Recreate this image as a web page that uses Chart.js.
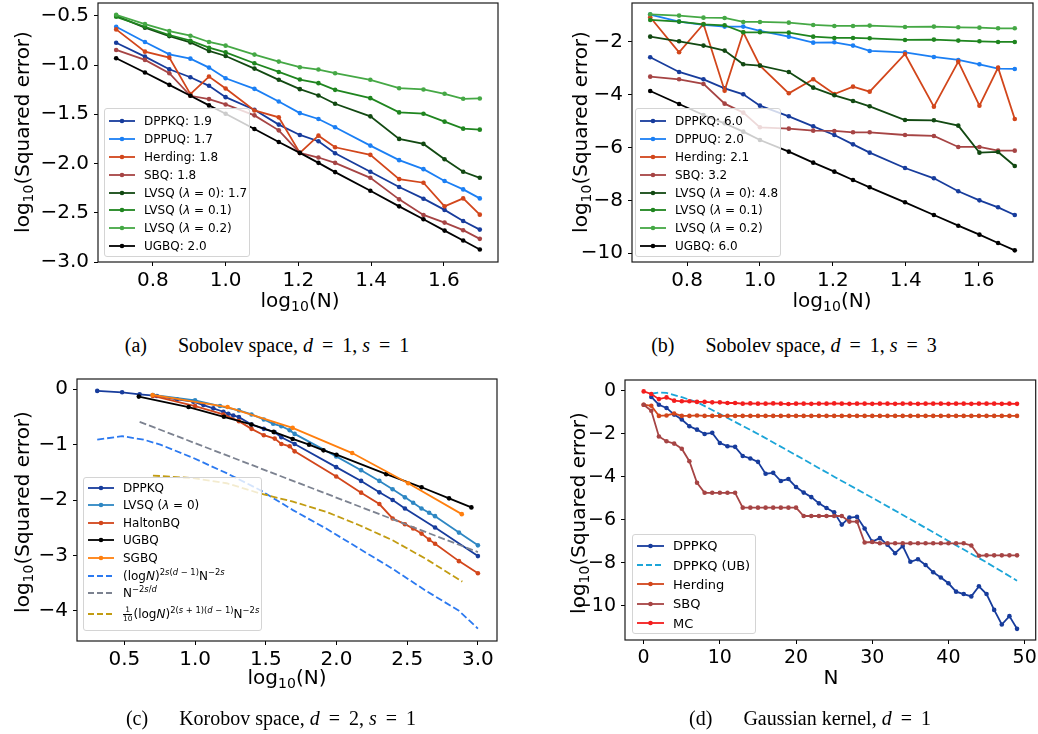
<!DOCTYPE html>
<html>
<head>
<meta charset="utf-8">
<script src="https://cdn.jsdelivr.net/npm/chart.js@4.4.1/dist/chart.umd.min.js"></script>
<style>
  body { margin: 0; background: #fff; }
  #fig { position: relative; width: 1038px; height: 734px; overflow: hidden; font-family: 'DejaVu Sans', sans-serif; color: #000; }
  canvas { position: absolute; }
  .ylab { position: absolute; transform: translate(-50%, -50%) rotate(-90deg); white-space: nowrap; font-size: 20px; }
  .xlab { position: absolute; transform: translate(-50%, -50%); white-space: nowrap; font-size: 20px; }
  .cap { position: absolute; transform: translate(-50%, -50%); white-space: nowrap; font-family: 'Liberation Serif', serif; font-size: 20px; }
  .cap .gap { display: inline-block; width: 31px; }
  .cap .eq { margin: 0 9px; }
  sub { font-size: 70%; vertical-align: -0.3em; line-height: 0; }
  sup { font-size: 70%; vertical-align: 0.55em; line-height: 0; }
  .leg { position: absolute; background: rgba(255,255,255,0.8); border: 1px solid #d4d4d4; border-radius: 3px; box-sizing: border-box; }
  .row { display: flex; align-items: center; white-space: nowrap; }
  .row svg { flex: none; margin-right: 9px; }
  .frac { display: inline-flex; flex-direction: column; font-size: 62%; line-height: 1.05; vertical-align: middle; text-align: center; margin-right: 1px; }
  .frac span:first-child { border-bottom: 1px solid #000; }
</style>
</head>
<body>
<div id="fig">
  <canvas id="chartA" width="520" height="300" style="left:0;top:0"></canvas>
  <canvas id="chartB" width="508" height="300" style="left:530px;top:0"></canvas>
  <canvas id="chartC" width="520" height="310" style="left:0;top:370px"></canvas>
  <canvas id="chartD" width="508" height="310" style="left:530px;top:370px"></canvas>

  <div class="ylab" style="left:22px;top:132px">log<sub>10</sub>(Squared error)</div>
  <div class="ylab" style="left:580px;top:132px">log<sub>10</sub>(Squared error)</div>
  <div class="ylab" style="left:22px;top:512px">log<sub>10</sub>(Squared error)</div>
  <div class="ylab" style="left:578px;top:513px">log<sub>10</sub>(Squared error)</div>

  <div class="xlab" style="left:300px;top:300px">log<sub>10</sub>(N)</div>
  <div class="xlab" style="left:832px;top:300px">log<sub>10</sub>(N)</div>
  <div class="xlab" style="left:287px;top:677px">log<sub>10</sub>(N)</div>
  <div class="xlab" style="left:831px;top:677px">N</div>

  <div class="cap" style="left:267px;top:345px">(a)<span class="gap"></span>Sobolev space, <i>d</i><span class="eq">=</span>1, <i>s</i><span class="eq">=</span>1</div>
  <div class="cap" style="left:794px;top:345px">(b)<span class="gap"></span>Sobolev space, <i>d</i><span class="eq">=</span>1, <i>s</i><span class="eq">=</span>3</div>
  <div class="cap" style="left:271px;top:718px">(c)<span class="gap"></span>Korobov space, <i>d</i><span class="eq">=</span>2, <i>s</i><span class="eq">=</span>1</div>
  <div class="cap" style="left:810px;top:718px">(d)<span class="gap"></span>Gaussian kernel, <i>d</i><span class="eq">=</span>1</div>
</div>

<script>
// ---------- (a) Sobolev space, d = 1, s = 1 ----------
const sobolevN = [5, 6, 7, 8, 9, 10, 12, 14, 16, 18, 20, 25, 30, 35, 40, 45, 50];
const aDppkq   = [-0.773, -0.915, -1.043, -1.124, -1.211, -1.326, -1.454, -1.605, -1.710, -1.774, -1.895, -2.084, -2.239, -2.357, -2.471, -2.583, -2.671];
const aDppuq   = [-0.611, -0.766, -0.891, -0.935, -1.026, -1.134, -1.242, -1.370, -1.488, -1.548, -1.632, -1.818, -1.966, -2.057, -2.178, -2.263, -2.354];
const aHerding = [-0.638, -0.864, -0.925, -1.295, -1.117, -1.238, -1.461, -1.531, -1.892, -1.717, -1.835, -1.912, -2.158, -2.195, -2.435, -2.354, -2.519];
const aSbq     = [-0.847, -0.948, -1.083, -1.312, -1.346, -1.400, -1.511, -1.663, -1.892, -1.939, -1.993, -2.145, -2.364, -2.522, -2.600, -2.677, -2.765];
const aLvsq0   = [-0.500, -0.621, -0.706, -0.770, -0.857, -0.908, -1.036, -1.150, -1.245, -1.309, -1.393, -1.521, -1.750, -1.801, -1.956, -2.084, -2.145];
const aLvsq01  = [-0.510, -0.611, -0.695, -0.753, -0.824, -0.871, -0.982, -1.070, -1.147, -1.184, -1.252, -1.336, -1.481, -1.494, -1.575, -1.646, -1.656];
const aLvsq02  = [-0.490, -0.584, -0.655, -0.702, -0.766, -0.803, -0.894, -0.965, -1.022, -1.046, -1.083, -1.150, -1.235, -1.248, -1.292, -1.343, -1.339];
const aUgbq    = [-0.931, -1.076, -1.201, -1.312, -1.410, -1.494, -1.649, -1.781, -1.892, -1.993, -2.087, -2.276, -2.435, -2.566, -2.681, -2.782, -2.873];
const aLabels  = ['DPPKQ: 1.9', 'DPPUQ: 1.7', 'Herding: 1.8', 'SBQ: 1.8',
                  'LVSQ (<i>λ</i> = 0): 1.7', 'LVSQ (<i>λ</i> = 0.1)', 'LVSQ (<i>λ</i> = 0.2)', 'UGBQ: 2.0'];

// ---------- (b) Sobolev space, d = 1, s = 3 ----------
const bDppkq   = [-2.592, -3.147, -3.424, -3.764, -3.991, -4.420, -4.823, -5.201, -5.529, -5.882, -6.197, -6.776, -7.167, -7.658, -7.999, -8.263, -8.553];
const bDppuq   = [-0.979, -1.244, -1.370, -1.433, -1.433, -1.597, -1.811, -2.038, -2.025, -2.151, -2.353, -2.403, -2.580, -2.693, -2.857, -3.021, -3.033];
const bHerding = [-1.080, -2.403, -1.332, -3.853, -1.647, -2.907, -3.953, -3.424, -3.979, -3.701, -3.890, -2.466, -4.457, -2.756, -4.420, -2.983, -4.924];
const bSbq     = [-3.323, -3.424, -3.600, -4.344, -4.684, -5.239, -5.289, -5.365, -5.377, -5.428, -5.428, -5.529, -5.566, -5.982, -5.982, -6.121, -6.121];
const bLvsq0   = [-1.811, -1.987, -2.151, -2.340, -2.857, -2.907, -3.147, -3.739, -4.029, -4.243, -4.445, -4.962, -4.974, -5.176, -6.197, -6.171, -6.701];
const bLvsq01  = [-1.181, -1.244, -1.345, -1.382, -1.647, -1.647, -1.660, -1.811, -1.861, -1.861, -1.874, -1.937, -1.924, -1.962, -1.987, -2.013, -2.013];
const bLvsq02  = [-0.967, -1.017, -1.093, -1.105, -1.256, -1.256, -1.282, -1.370, -1.408, -1.408, -1.395, -1.445, -1.433, -1.458, -1.471, -1.496, -1.496];
const bUgbq    = [-3.865, -4.357, -4.773, -5.088, -5.403, -5.718, -6.159, -6.575, -6.915, -7.230, -7.507, -8.074, -8.553, -8.957, -9.297, -9.612, -9.889];
const bLabels  = ['DPPKQ: 6.0', 'DPPUQ: 2.0', 'Herding: 2.1', 'SBQ: 3.2',
                  'LVSQ (<i>λ</i> = 0): 4.8', 'LVSQ (<i>λ</i> = 0.1)', 'LVSQ (<i>λ</i> = 0.2)', 'UGBQ: 6.0'];

const sobolevXTicks = [0.8, 1.0, 1.2, 1.4, 1.6];
const aYTicks = [-3.0, -2.5, -2.0, -1.5, -1.0, -0.5];
const bYTicks = [-10, -8, -6, -4, -2];

// ---------- (c) Korobov space, d = 2, s = 1 (x = log10 N) ----------
const cDppkqX   = [0.308, 0.484, 0.608, 0.730, 0.871, 0.988, 1.059, 1.129, 1.200, 1.235, 1.270, 1.310, 1.399, 1.486, 1.563, 1.610, 1.704, 1.998, 2.174, 2.303, 2.397, 2.484, 2.697, 3.000];
const cDppkqY   = [-0.030, -0.055, -0.091, -0.121, -0.182, -0.224, -0.285, -0.345, -0.406, -0.442, -0.473, -0.503, -0.636, -0.715, -0.776, -0.867, -0.988, -1.406, -1.655, -1.861, -2.000, -2.152, -2.497, -3.012];
const cLvsqX    = [0.702, 1.000, 1.176, 1.310, 1.399, 1.486, 1.552, 1.610, 1.669, 1.704, 1.998, 2.174, 2.303, 2.397, 2.484, 2.542, 2.601, 2.655, 2.697, 2.866, 3.000];
const cLvsqY    = [-0.103, -0.200, -0.303, -0.382, -0.455, -0.545, -0.624, -0.667, -0.739, -0.806, -1.212, -1.461, -1.655, -1.806, -1.952, -2.048, -2.152, -2.230, -2.291, -2.588, -2.818];
const cHaltonX  = [0.702, 1.000, 1.200, 1.310, 1.399, 1.486, 1.563, 1.610, 1.669, 1.704, 1.998, 2.174, 2.303, 2.397, 2.484, 2.542, 2.601, 2.655, 2.697, 2.866, 3.000];
const cHaltonY  = [-0.121, -0.303, -0.455, -0.576, -0.715, -0.830, -0.891, -0.988, -1.030, -1.121, -1.576, -1.867, -2.073, -2.333, -2.436, -2.515, -2.606, -2.715, -2.788, -3.103, -3.321];
const cUgbqX    = [0.602, 0.954, 1.204, 1.398, 1.556, 1.690, 1.806, 1.908, 2.000, 2.352, 2.602, 2.796, 2.954];
const cUgbqY    = [-0.133, -0.321, -0.497, -0.636, -0.770, -0.897, -1.000, -1.103, -1.182, -1.533, -1.770, -1.970, -2.133];
const cSgbqX    = [0.699, 1.230, 1.690, 2.111, 2.507, 2.886];
const cSgbqY    = [-0.103, -0.321, -0.697, -1.152, -1.697, -2.255];
const cRateAX   = [0.308, 0.484, 0.636, 0.754, 0.988, 1.223, 1.458, 1.692, 1.927, 2.162, 2.397, 2.631, 2.866, 3.000];
const cRateAY   = [-0.909, -0.848, -0.909, -1.000, -1.242, -1.515, -1.818, -2.182, -2.515, -2.879, -3.242, -3.636, -4.000, -4.321];
const cRateBX   = [0.608, 1.200, 1.800, 2.400, 3.000];
const cRateBY   = [-0.588, -1.170, -1.760, -2.350, -2.940];
const cRateCX   = [0.702, 0.988, 1.223, 1.458, 1.692, 1.927, 2.162, 2.397, 2.631, 2.890];
const cRateCY   = [-1.558, -1.606, -1.697, -1.879, -2.030, -2.212, -2.455, -2.727, -3.061, -3.473];
const cLabels   = ['DPPKQ', 'LVSQ (<i>λ</i> = 0)', 'HaltonBQ', 'UGBQ', 'SGBQ',
                   '(log<i>N</i>)<sup>2<i>s</i>(<i>d</i> − 1)</sup>N<sup>−2<i>s</i></sup>',
                   'N<sup>−2<i>s</i>/<i>d</i></sup>',
                   '<span class="frac"><span>1</span><span>10</span></span>(log<i>N</i>)<sup>2(<i>s</i> + 1)(<i>d</i> − 1)</sup>N<sup>−2<i>s</i></sup>'];
const cXTicks = [0.5, 1.0, 1.5, 2.0, 2.5, 3.0];
const cYTicks = [-4, -3, -2, -1, 0];

// ---------- (d) Gaussian kernel, d = 1 ----------
const dN       = [0, 1, 2, 3, 4, 5, 6, 7, 8, 9, 10, 11, 12, 13, 14, 15, 16, 17, 18, 19, 20, 21, 22, 23, 24,
                  25, 26, 27, 28, 29, 30, 31, 32, 33, 34, 35, 36, 37, 38, 39, 40, 41, 42, 43, 44, 45, 46, 47, 48, 49];
const dDppkqN  = [1, 2, 3, 4, 5, 6, 7, 8, 9, 10, 11, 12, 13, 14, 15, 16, 17, 18, 19, 20, 21, 22, 23, 24,
                  25, 26, 27, 28, 29, 30, 31, 32, 33, 34, 35, 36, 37, 38, 39, 40, 41, 42, 43, 44, 45, 46, 47, 48, 49];
const dDppkq   = [-0.29, -0.65, -0.80, -1.11, -1.34, -1.65, -1.81, -2.01, -1.96, -2.43, -2.58, -2.61, -3.04, -3.15, -3.31, -3.86,
                  -3.82, -4.20, -4.11, -4.48, -4.74, -4.95, -5.24, -5.46, -5.66, -6.23, -5.90, -5.87, -6.41, -7.02, -6.86, -7.17,
                  -7.56, -7.23, -7.96, -7.84, -8.11, -8.45, -8.69, -8.96, -9.35, -9.46, -9.57, -9.10, -9.46, -10.20, -10.88, -10.49, -11.08];
const dBoundN  = [1, 2, 3, 5, 7, 10, 15, 20, 25, 30, 35, 40, 45, 49];
const dBound   = [-0.14, -0.08, -0.10, -0.30, -0.53, -1.08, -2.01, -3.00, -4.00, -4.98, -5.98, -6.99, -7.99, -8.84];
const dHerding = [-0.65, -0.70, -1.17, -1.15, -1.06, -1.17, -1.17, -1.15, -1.17, -1.17, -1.17, -1.17, -1.17, -1.17, -1.17, -1.17,
                  -1.17, -1.17, -1.17, -1.17, -1.17, -1.17, -1.17, -1.17, -1.17, -1.17, -1.17, -1.17, -1.17, -1.17, -1.17, -1.17,
                  -1.17, -1.17, -1.17, -1.17, -1.17, -1.17, -1.17, -1.17, -1.17, -1.17, -1.17, -1.17, -1.17, -1.17, -1.17, -1.17, -1.17, -1.17];
const dSbq     = [-0.65, -0.93, -2.13, -2.35, -2.46, -2.70, -3.28, -4.28, -4.75, -4.75, -4.75, -4.75, -4.75, -5.44, -5.44, -5.44,
                  -5.44, -5.44, -5.44, -5.44, -5.44, -5.83, -5.83, -5.83, -5.83, -5.83, -5.83, -6.09, -6.09, -7.06, -7.04, -7.10,
                  -7.10, -7.10, -7.10, -7.10, -7.10, -7.10, -7.10, -7.10, -7.10, -7.10, -7.10, -7.20, -7.68, -7.66, -7.66, -7.66, -7.66, -7.66];
const dMc      = [-0.03, -0.15, -0.39, -0.31, -0.46, -0.49, -0.49, -0.52, -0.52, -0.54, -0.54, -0.57, -0.57, -0.60, -0.59, -0.60,
                  -0.60, -0.59, -0.60, -0.62, -0.60, -0.60, -0.61, -0.60, -0.60, -0.59, -0.60, -0.61, -0.60, -0.60, -0.61, -0.60,
                  -0.60, -0.61, -0.60, -0.60, -0.61, -0.60, -0.60, -0.60, -0.61, -0.60, -0.60, -0.61, -0.60, -0.60, -0.60, -0.61, -0.60, -0.61];
const dLabels  = ['DPPKQ', 'DPPKQ (UB)', 'Herding', 'SBQ', 'MC'];
const dXTicks = [0, 10, 20, 30, 40, 50];
const dYTicks = [-10, -8, -6, -4, -2, 0];

// 색상
const C = {
  dppkq: '#173c9c', dppuq: '#1b7ff4', herding: '#d2461b', sbq: '#a64444',
  lv0: '#124912', lv1: '#1f851f', lv2: '#45a845', ugbq: '#000000',
  lvsqC: '#2e87c3', sgbq: '#ff7f0e', rateA: '#2b79f0', rateB: '#7c8290', rateC: '#c29c12',
  ub: '#1ca5d8', mc: '#f31d1d'
};

const log10N = sobolevN.map(n => Math.log10(n));
const pts = (xs, ys) => xs.map((x, i) => ({ x: x, y: ys[i] }));
const fmt = (dec) => (v) => Number(v).toFixed(dec).replace('-', '\u2212');

// 축 테두리(사각형) 그리기
const framePlugin = {
  id: 'frame',
  afterDatasetsDraw(chart) {
    const a = chart.chartArea, ctx = chart.ctx;
    ctx.save();
    ctx.strokeStyle = '#1a1a1a';
    ctx.lineWidth = 1.2;
    ctx.strokeRect(a.left, a.top, a.right - a.left, a.bottom - a.top);
    ctx.restore();
  }
};

function axis(range, ticks, dec, fitKey, fitVal, pad, fontSize) {
  return {
    type: 'linear', min: range[0], max: range[1],
    afterBuildTicks: s => { s.ticks = ticks.map(v => ({ value: v })); },
    afterFit: s => {
      s[fitKey] = fitVal;
      // 라벨이 넘치는 만큼 차트 영역이 밀리지 않도록
      s.paddingTop = 0; s.paddingBottom = 0; s.paddingLeft = 0; s.paddingRight = 0;
    },
    ticks: { callback: fmt(dec), color: '#000', padding: pad, autoSkip: false, maxRotation: 0,
             font: { family: 'DejaVu Sans', size: fontSize } },
    grid: { drawOnChartArea: false, drawTicks: true, tickLength: 4, tickColor: '#000', tickWidth: 1 },
    border: { display: false }
  };
}

function makeChart(id, p) {
  const datasets = p.series.map((s, i) => ({
    label: s.label,
    data: pts(s.x, s.y),
    borderColor: s.color,
    backgroundColor: s.color,
    pointBackgroundColor: s.color,
    pointBorderWidth: 0,
    borderWidth: 1.8,
    pointRadius: s.dashed ? 0 : 2.3,
    pointHoverRadius: 0,
    borderDash: s.dashed ? [7, 3] : [],
    tension: 0,
    fill: false,
    order: -i
  }));
  new Chart(document.getElementById(id), {
    type: 'line',
    data: { datasets },
    options: {
      responsive: false, animation: false, events: [],
      layout: { padding: p.pad },
      plugins: { legend: { display: false }, tooltip: { enabled: false } },
      scales: {
        x: axis(p.xRange, p.xTicks, p.xDec, 'height', p.xH, 3, p.fs),
        y: axis(p.yRange, p.yTicks, p.yDec, 'width', p.yW, 5, p.fs)
      }
    },
    plugins: [framePlugin]
  });
}

// HTML 범례
function makeLegend(series, labels, box) {
  const fig = document.getElementById('fig');
  const el = document.createElement('div');
  el.className = 'leg';
  Object.assign(el.style, { left: box.left + 'px', top: box.top + 'px', width: box.width + 'px',
                            height: box.height + 'px', padding: box.pad + 'px 0 0 4px', fontSize: box.fs + 'px' });
  series.forEach((s, i) => {
    const row = document.createElement('div');
    row.className = 'row';
    row.style.height = (box.rowH[i] || box.rowH[0]) + 'px';
    const w = box.lineW;
    const dash = s.dashed ? 'stroke-dasharray="6 3"' : '';
    const dot = s.dashed ? '' : `<circle cx="${w / 2}" cy="5" r="2.3" fill="${s.color}"/>`;
    row.innerHTML = `<svg width="${w}" height="10"><line x1="0" y1="5" x2="${w}" y2="5" stroke="${s.color}" stroke-width="1.8" ${dash}/>${dot}</svg><span>${labels[i]}</span>`;
    el.appendChild(row);
  });
  fig.appendChild(el);
}

// ----- (a)
const seriesA = [
  { label: 'DPPKQ', x: log10N, y: aDppkq, color: C.dppkq },
  { label: 'DPPUQ', x: log10N, y: aDppuq, color: C.dppuq },
  { label: 'Herding', x: log10N, y: aHerding, color: C.herding },
  { label: 'SBQ', x: log10N, y: aSbq, color: C.sbq },
  { label: 'LVSQ 0', x: log10N, y: aLvsq0, color: C.lv0 },
  { label: 'LVSQ 0.1', x: log10N, y: aLvsq01, color: C.lv1 },
  { label: 'LVSQ 0.2', x: log10N, y: aLvsq02, color: C.lv2 },
  { label: 'UGBQ', x: log10N, y: aUgbq, color: C.ugbq }
];
makeChart('chartA', { series: seriesA, xRange: [0.649, 1.749], yRange: [-3.0, -0.37], xTicks: sobolevXTicks, yTicks: aYTicks,
  xDec: 1, yDec: 1, xH: 38, yW: 98, pad: { top: 3, right: 22, left: 0, bottom: 0 }, fs: 20 });
makeLegend(seriesA, aLabels, { left: 104, top: 108, width: 146, height: 149, pad: 3, rowH: [17.9], lineW: 26, fs: 12 });

// ----- (b)
const seriesB = [
  { label: 'DPPKQ', x: log10N, y: bDppkq, color: C.dppkq },
  { label: 'DPPUQ', x: log10N, y: bDppuq, color: C.dppuq },
  { label: 'Herding', x: log10N, y: bHerding, color: C.herding },
  { label: 'SBQ', x: log10N, y: bSbq, color: C.sbq },
  { label: 'LVSQ 0', x: log10N, y: bLvsq0, color: C.lv0 },
  { label: 'LVSQ 0.1', x: log10N, y: bLvsq01, color: C.lv1 },
  { label: 'LVSQ 0.2', x: log10N, y: bLvsq02, color: C.lv2 },
  { label: 'UGBQ', x: log10N, y: bUgbq, color: C.ugbq }
];
makeChart('chartB', { series: seriesB, xRange: [0.649, 1.749], yRange: [-10.33, -0.54], xTicks: sobolevXTicks, yTicks: bYTicks,
  xDec: 1, yDec: 0, xH: 38, yW: 102, pad: { top: 3, right: 5, left: 0, bottom: 0 }, fs: 20 });
makeLegend(seriesB, bLabels, { left: 635, top: 108, width: 146, height: 149, pad: 3, rowH: [17.9], lineW: 26, fs: 12 });

// ----- (c)
const seriesC = [
  { label: 'DPPKQ', x: cDppkqX, y: cDppkqY, color: C.dppkq },
  { label: 'LVSQ', x: cLvsqX, y: cLvsqY, color: C.lvsqC },
  { label: 'HaltonBQ', x: cHaltonX, y: cHaltonY, color: C.herding },
  { label: 'UGBQ', x: cUgbqX, y: cUgbqY, color: C.ugbq },
  { label: 'SGBQ', x: cSgbqX, y: cSgbqY, color: C.sgbq },
  { label: 'rate A', x: cRateAX, y: cRateAY, color: C.rateA, dashed: true },
  { label: 'rate B', x: cRateBX, y: cRateBY, color: C.rateB, dashed: true },
  { label: 'rate C', x: cRateCX, y: cRateCY, color: C.rateC, dashed: true }
];
makeChart('chartC', { series: seriesC, xRange: [0.165, 3.135], yRange: [-4.545, 0.185], xTicks: cXTicks, yTicks: cYTicks,
  xDec: 1, yDec: 0, xH: 39, yW: 77, pad: { top: 9, right: 23, left: 0, bottom: 0 }, fs: 20 });
makeLegend(seriesC, cLabels, { left: 83, top: 477, width: 179, height: 154, pad: 1, rowH: [17.55, 17.55, 17.55, 17.55, 17.55, 17.55, 17.55, 25], lineW: 26, fs: 12 });

// ----- (d)
const seriesD = [
  { label: 'DPPKQ', x: dDppkqN, y: dDppkq, color: C.dppkq },
  { label: 'DPPKQ (UB)', x: dBoundN, y: dBound, color: C.ub, dashed: true },
  { label: 'Herding', x: dN, y: dHerding, color: C.herding },
  { label: 'SBQ', x: dN, y: dSbq, color: C.sbq },
  { label: 'MC', x: dN, y: dMc, color: C.mc }
];
makeChart('chartD', { series: seriesD, xRange: [-2.45, 51.45], yRange: [-11.6, 0.5], xTicks: dXTicks, yTicks: dYTicks,
  xDec: 0, yDec: 0, xH: 40, yW: 95, pad: { top: 10, right: 1, left: 0, bottom: 0 }, fs: 19 });
makeLegend(seriesD, dLabels, { left: 632, top: 534, width: 124, height: 100, pad: 1, rowH: [19.35], lineW: 27, fs: 13 });
</script>
</body>
</html>
